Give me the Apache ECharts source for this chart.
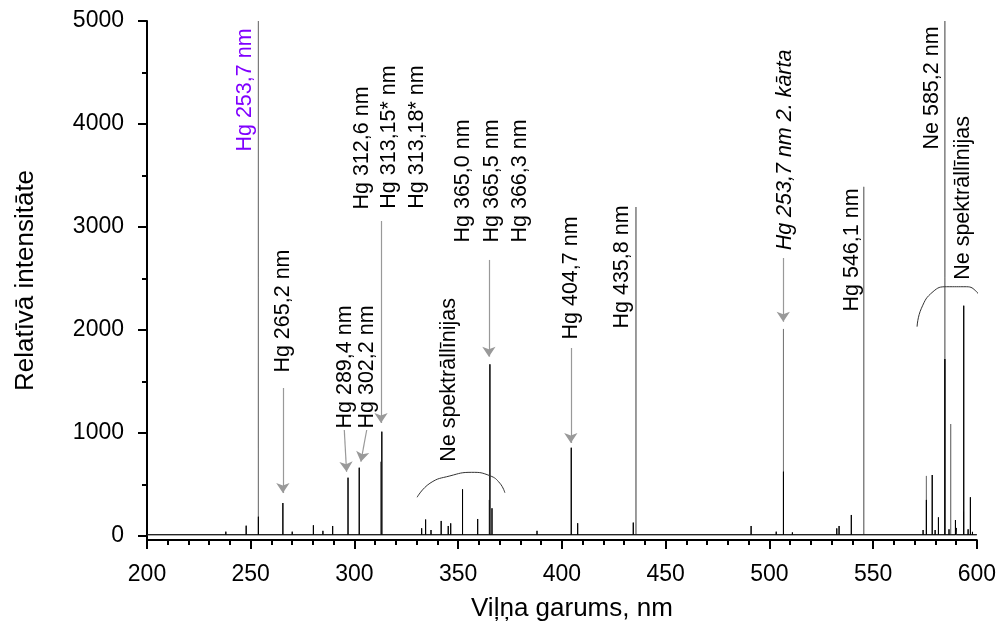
<!DOCTYPE html>
<html><head><meta charset="utf-8">
<script src="https://cdn.jsdelivr.net/npm/echarts@6/dist/echarts.min.js"></script>
<style>html,body{margin:0;padding:0;background:#fff}#c{width:999px;height:635px}</style>
</head><body><div id="c"></div>
<script>
// ---- data ----
const blackNm  = [238, 240, 247.8, 253.7, 265.5, 270, 280.2, 284.8, 289.5, 296.9, 302.3, 313.2, 332.4, 334.3, 336.9, 341.8, 345.2, 346.4, 352.1, 359.4, 365.3, 366.3, 388, 404.5, 407.6, 434.4, 491.2, 503.3, 506.8, 511.1, 532.5, 533.6, 539.5, 574.1, 575.7, 578.5, 579.9, 581.5, 584.6, 586.6, 589.7, 590.1, 593.7, 595.8, 596.9, 597.9];
const blackVal = [42, 30, 100, 187, 320, 42, 104, 50, 97, 566, 663, 1013, 75, 160, 58, 146, 97, 123, 453, 165, 1667, 269, 50, 857, 124, 130, 97, 42, 624, 35, 74, 97, 204, 58, 350, 592, 58, 181, 1718, 65, 155, 78, 2236, 65, 376, 40];
const grayNm   = [253.7, 312.6, 365.0, 435.7, 506.8, 545.5, 575.7, 584.6, 587.4, 593.6];
const grayVal  = [5000, 720, 350, 3194, 2010, 3390, 583, 5000, 1087, 236];
const baselineVal = 12;

const xTickMin = 200, xTickMax = 600, xTickStep = 50;
const yTicks      = [0, 1000, 2000, 3000, 4000, 5000];
const yMinorTicks = [500, 1500, 2500, 3500, 4500];

const annoText = ['Hg 253,7 nm', 'Hg 265,2 nm', 'Hg 289,4 nm', 'Hg 302,2 nm', 'Hg 312,6 nm', 'Hg 313,15* nm', 'Hg 313,18* nm', 'Hg 365,0 nm', 'Hg 365,5 nm', 'Hg 366,3 nm', 'Ne spektrāllīnijas', 'Hg 404,7 nm', 'Hg 435,8 nm', 'Hg 253,7 nm 2. kārta', 'Hg 546,1 nm', 'Ne 585,2 nm', 'Ne spektrāllīnijas'];
const annoNm   = [247.2, 265.5, 295.4, 306.0, 303.6, 316.6, 330.1, 352.3, 366.3, 379.8, 345.5, 404.3, 428.9, 507.5, 539.8, 578.3, 593.3];
const annoVal  = [4330, 2184, 1641, 1641, 3767, 3874, 3874, 3447, 3447, 3447, 1515, 2505, 2612, 3748, 2777, 4350, 3282];

const arrowFromNm  = [265.5, 295.1, 305.9, 312.8, 364.8, 404.3, 506.7];
const arrowFromVal = [1437, 1029, 1029, 3058, 2680, 1825, 2699];
const arrowToNm    = [265.5, 296.2, 303.1, 312.8, 364.8, 404.3, 506.7];
const arrowToVal   = [417, 624, 721, 1097, 1741, 903, 2080];

const arcLeftNm   = [330.2, 336.4, 346.0, 356.5, 365.3, 370.1, 372.5];
const arcLeftVal  = [376, 512, 583, 618, 585, 512, 420];
const arcRightNm  = [571.2, 573.3, 578.9, 585.4, 595.0, 599.9, 601.4];
const arcRightVal = [2032, 2211, 2372, 2420, 2420, 2372, 2308];

// ---- build ----
function impulses(nm, val) {
  const idx = nm.map((_, i) => i).sort((a, b) => nm[a] - nm[b]);
  const pts = [[xTickMin, baselineVal]];
  idx.forEach(i => { pts.push([nm[i], baselineVal], [nm[i], val[i]], [nm[i], baselineVal]); });
  pts.push([xTickMax, baselineVal]);
  return pts;
}
const FONT = '"Liberation Sans", Arial, sans-serif';
const chart = echarts.init(document.getElementById('c'), null, {renderer: 'canvas'});
const option = {
  animation: false,
  backgroundColor: '#fff',
  textStyle: {fontFamily: FONT},
  grid: {left: 147, right: 22, top: 21, bottom: 95, containLabel: false},
  xAxis: {
    type: 'value', min: xTickMin, max: xTickMax, interval: xTickStep,
    axisLine: {show: true, onZero: false, lineStyle: {color: '#000', width: 2}},
    axisTick: {show: true, inside: false, length: 9, lineStyle: {color: '#000', width: 2}},
    minorTick: {show: true, splitNumber: 5, length: 5, lineStyle: {color: '#000', width: 2}},
    axisLabel: {fontSize: 23, color: '#000', margin: 23, fontFamily: FONT, formatter: v => String(v)},
    splitLine: {show: false},
    name: 'Viļņa garums, nm', nameLocation: 'middle', nameGap: 56, nameMoveOverlap: false,
    nameTextStyle: {fontSize: 26, color: '#000', fontFamily: FONT, padding: [0, 0, 0, 20]}
  },
  yAxis: [{
    type: 'value', min: -39, max: 5000,
    axisLine: {show: true, lineStyle: {color: '#000', width: 2}},
    axisTick: {show: true, inside: false, length: 9, customValues: yTicks, lineStyle: {color: '#000', width: 2}},
    axisLabel: {customValues: yTicks, fontSize: 23, color: '#000', margin: 23, fontFamily: FONT, formatter: v => String(v)},
    splitLine: {show: false},
    name: 'Relatīvā intensitāte', nameLocation: 'middle', nameGap: 108,
    nameTextStyle: {fontSize: 26, color: '#000', fontFamily: FONT}
  }, {
    type: 'value', min: -39, max: 5000, position: 'left',
    axisLine: {show: false},
    axisTick: {show: true, inside: false, length: 5, customValues: yMinorTicks, lineStyle: {color: '#000', width: 2}},
    axisLabel: {show: false}, splitLine: {show: false}
  }],
  series: [
    {type: 'line', name: 'gray', data: impulses(grayNm, grayVal), showSymbol: false, symbol: 'none',
     lineStyle: {color: '#7a7a7a', width: 1}, silent: true},
    {type: 'line', name: 'black', data: impulses(blackNm, blackVal), showSymbol: false, symbol: 'none',
     lineStyle: {color: '#000', width: 1}, silent: true},
    {type: 'line', name: 'arrows', data: [], silent: true,
     markLine: {silent: true, symbol: ['none', 'arrow'], symbolSize: 10, precision: 3,
       lineStyle: {color: '#999', width: 1.2, type: 'solid'}, itemStyle: {color: '#999'}, label: {show: false},
       emphasis: {disabled: true},
       data: arrowFromNm.map((x, i) => [{coord: [x, arrowFromVal[i]]}, {coord: [arrowToNm[i], arrowToVal[i]]}])}},
    {type: 'line', name: 'arcL', data: arcLeftNm.map((x, i) => [x, arcLeftVal[i]]), smooth: true, showSymbol: false,
     symbol: 'none', lineStyle: {color: '#333', width: 1}, silent: true, clip: false},
    {type: 'line', name: 'arcR', data: arcRightNm.map((x, i) => [x, arcRightVal[i]]), smooth: true, showSymbol: false,
     symbol: 'none', lineStyle: {color: '#333', width: 1}, silent: true, clip: false}
  ]
};
chart.setOption(option);
const graphics = annoText.map((t, i) => {
  const p = chart.convertToPixel({gridIndex: 0}, [annoNm[i], annoVal[i]]);
  return {
    type: 'text', x: p[0], y: p[1], rotation: Math.PI / 2, silent: true,
    style: {text: t, fontSize: 21.5, fontFamily: FONT, fill: i === 0 ? '#8000ff' : '#000',
      fontStyle: t.indexOf('kārta') >= 0 ? 'italic' : 'normal', align: 'center', verticalAlign: 'middle'}
  };
});
chart.setOption({graphic: graphics});
</script></body></html>
